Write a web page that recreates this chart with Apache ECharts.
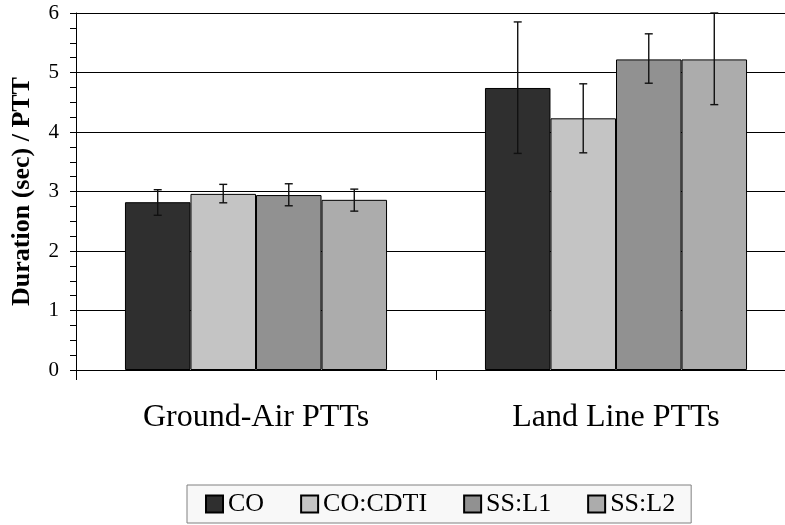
<!DOCTYPE html>
<html><head><meta charset="utf-8">
<script src="https://cdn.jsdelivr.net/npm/echarts@6/dist/echarts.min.js"></script>
<style>html,body{margin:0;padding:0;background:#fff}#c{width:785px;height:525px}</style>
</head><body><div id="c"></div>
<script>
const categories = ['Ground-Air PTTs', 'Land Line PTTs'];
const seriesNames = ['CO', 'CO:CDTI', 'SS:L1', 'SS:L2'];
const coValues = [2.82, 4.74];
const cdtiValues = [2.96, 4.23];
const l1Values = [2.94, 5.22];
const l2Values = [2.86, 5.22];
const coErrLow = [2.60, 3.64];
const coErrHigh = [3.03, 5.85];
const cdtiErrLow = [2.81, 3.65];
const cdtiErrHigh = [3.12, 4.81];
const l1ErrLow = [2.76, 4.82];
const l1ErrHigh = [3.13, 5.65];
const l2ErrLow = [2.67, 4.46];
const l2ErrHigh = [3.04, 6.00];
const yTicks = [0, 1, 2, 3, 4, 5, 6];

const values = [coValues, cdtiValues, l1Values, l2Values];
const lows = [coErrLow, cdtiErrLow, l1ErrLow, l2ErrLow];
const highs = [coErrHigh, cdtiErrHigh, l1ErrHigh, l2ErrHigh];
const colors = ['#2f2f2f', '#c4c4c4', '#919191', '#acacac'];
const FONT = "'Liberation Serif', 'Times New Roman', serif";
const BAR_FRAC = 0.182;

const chart = echarts.init(document.getElementById('c'), null, {renderer: 'canvas'});

const barSeries = seriesNames.map((n, i) => ({
  name: n, type: 'bar', data: values[i],
  barWidth: (BAR_FRAC * 100) + '%', barGap: '0%',
  itemStyle: {color: colors[i], borderColor: '#000', borderWidth: 1},
  emphasis: {disabled: true}, z: 2
}));

const errSeries = seriesNames.map((n, i) => ({
  name: n + ' err', type: 'custom', z: 5,
  data: categories.map((c, ci) => [ci, lows[i][ci], highs[i][ci]]),
  encode: {x: 0, y: [1, 2]},
  renderItem: function (params, api) {
    const ci = api.value(0);
    const lo = api.coord([ci, api.value(1)]);
    const hi = api.coord([ci, api.value(2)]);
    const band = api.size([1, 0])[0];
    const x = lo[0] + (i - 1.5) * band * BAR_FRAC;
    const cap = 4;
    const st = {stroke: '#111', lineWidth: 1.4};
    return {type: 'group', children: [
      {type: 'line', shape: {x1: x, y1: lo[1], x2: x, y2: hi[1]}, style: st},
      {type: 'line', shape: {x1: x - cap, y1: lo[1], x2: x + cap, y2: lo[1]}, style: st},
      {type: 'line', shape: {x1: x - cap, y1: hi[1], x2: x + cap, y2: hi[1]}, style: st}
    ]};
  }
}));

chart.setOption({
  animation: false,
  backgroundColor: '#fff',
  grid: {left: 76, top: 13, width: 720, bottom: 155, outerBoundsMode: 'none', containLabel: false},
  legend: {
    data: seriesNames, left: 187, top: 485,
    icon: 'rect', itemWidth: 17, itemHeight: 17, itemGap: 36,
    padding: [6, 16, 6, 18],
    backgroundColor: '#f8f8f8', borderColor: '#808080', borderWidth: 1,
    textStyle: {fontFamily: FONT, fontSize: 26, color: '#000'},
    selectedMode: false
  },
  xAxis: {
    type: 'category', data: categories,
    axisLine: {lineStyle: {color: '#000', width: 1}},
    axisTick: {show: true, length: 10, lineStyle: {color: '#000'}},
    axisLabel: {fontFamily: FONT, fontSize: 32, color: '#000', margin: 32}
  },
  yAxis: {
    type: 'value', min: 0, max: 6, interval: 1,
    name: 'Duration (sec) / PTT', nameLocation: 'middle', nameGap: 41,
    nameTextStyle: {fontFamily: FONT, fontSize: 26, fontWeight: 'bold', color: '#000'},
    axisLine: {show: true, lineStyle: {color: '#000', width: 1}},
    axisTick: {show: true, length: 6, lineStyle: {color: '#000'}},
    minorTick: {show: true, splitNumber: 4, length: 6, lineStyle: {color: '#000'}},
    splitLine: {show: true, lineStyle: {color: '#000', width: 1}},
    axisLabel: {fontFamily: FONT, fontSize: 21, color: '#000', margin: 17,
      formatter: v => yTicks.includes(v) ? String(v) : ''}
  },
  series: barSeries.concat(errSeries)
});
</script></body></html>
